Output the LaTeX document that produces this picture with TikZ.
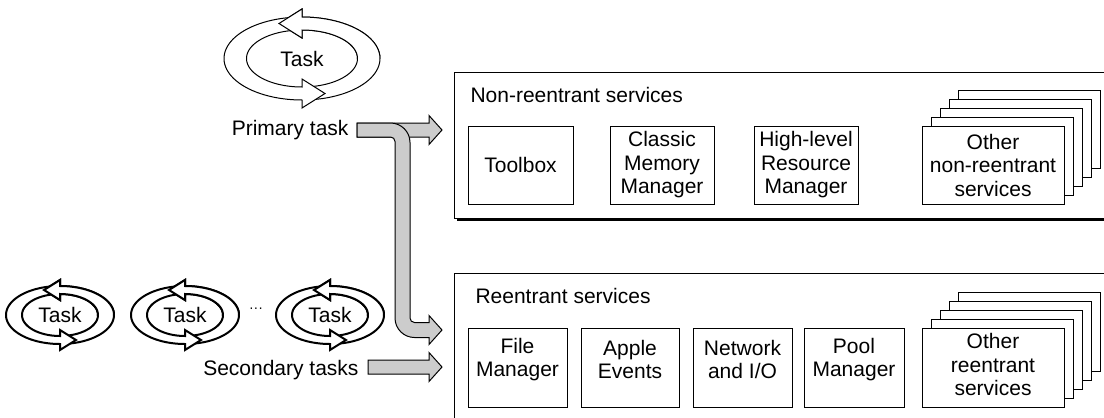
\documentclass[tikz,border=0pt]{standalone}
\usepackage{fontspec}
\setmainfont{Liberation Sans}
\definecolor{arrowgray}{RGB}{204,204,204}
% #1 cx, #2 cy, #3 a, #4 b, #5 wx, #6 wy, #7 head half height, #8 head length
\newcommand\taskring[8]{%
  \filldraw[fill=white]
    plot[domain=-85:90,samples=50] ({#1+(#3+#5)*cos(\x)},{#2-(#4+#6)*sin(\x)})
    -- ({#1},{#2-#4-#7}) -- ({#1-#8},{#2-#4}) -- ({#1},{#2-#4+#7})
    -- plot[domain=90:-85,samples=50] ({#1+(#3-#5)*cos(\x)},{#2-(#4-#6)*sin(\x)})
    -- cycle;
  \filldraw[fill=white]
    plot[domain=95:270,samples=50] ({#1+(#3+#5)*cos(\x)},{#2-(#4+#6)*sin(\x)})
    -- ({#1},{#2+#4+#7}) -- ({#1+#8},{#2+#4}) -- ({#1},{#2+#4-#7})
    -- plot[domain=270:95,samples=50] ({#1+(#3-#5)*cos(\x)},{#2-(#4-#6)*sin(\x)})
    -- cycle;
  \begin{scope}
    \clip ({#1-#3-#5-6},{#2-#4-#7-6}) rectangle ({#1+#3+#5+6},{#2});
    \filldraw[fill=white]
      plot[domain=-85:90,samples=50] ({#1+(#3+#5)*cos(\x)},{#2-(#4+#6)*sin(\x)})
      -- ({#1},{#2-#4-#7}) -- ({#1-#8},{#2-#4}) -- ({#1},{#2-#4+#7})
      -- plot[domain=90:-85,samples=50] ({#1+(#3-#5)*cos(\x)},{#2-(#4-#6)*sin(\x)})
      -- cycle;
  \end{scope}%
}
\begin{document}
\begin{tikzpicture}[x=1pt,y=-1pt,
  font=\fontsize{21}{23.5}\selectfont,
  line width=1pt,
  sbox/.style={draw, fill=white, inner sep=0pt, align=center, line width=1pt},
  garrow/.style={draw, fill=arrowgray, line width=1pt, line join=miter},
  lbl/.style={inner sep=0pt, align=center}]
\useasboundingbox (0,0) rectangle (1104,418);
\clip (0,0) rectangle (1104,418);

% ---- outer service panels ----
\fill[black] (457,75) rectangle (1115,221);
\node[draw, fill=white, line width=1.1pt, inner sep=0pt, anchor=north west,
      minimum width=660pt, minimum height=146pt] (nonre) at (454,72) {};
\fill[black] (457,276) rectangle (1115,440);
\node[draw, fill=white, line width=1.1pt, inner sep=0pt, anchor=north west,
      minimum width=660pt, minimum height=164pt] (re) at (454,273) {};

\node[lbl, anchor=base west] (nrtitle) at (470,102.5) {Non-reentrant services};
\node[lbl, anchor=base west] (retitle) at (475,303.5) {Reentrant services};

% ---- non-reentrant boxes ----
\node[sbox, minimum width=105pt, minimum height=78pt] (toolbox) at (520.5,165) {Toolbox};
\node[sbox, minimum width=104pt, minimum height=78pt] (classic) at (662,165) {Classic\\Memory\\Manager};
\node[sbox, minimum width=104pt, minimum height=78pt] (hlrm) at (806,165) {High-level\\Resource\\Manager};
\foreach \k in {4,3,2,1}
  \node[sbox, minimum width=142pt, minimum height=78pt] (onr\k) at ({993+9*\k},{165-9*\k}) {};
\node[sbox, minimum width=142pt, minimum height=78pt] (othernr) at (993,165) {Other\\non-reentrant\\services};

% ---- reentrant boxes ----
\node[sbox, minimum width=99pt, minimum height=79pt] (filemgr) at (517.5,367.5) {};
\node[lbl] (filemgrt) at (517.5,359.5) {File\\Manager};
\node[sbox, minimum width=98pt, minimum height=79pt] (apple) at (630,367.5) {};
\node[lbl] (applet) at (630,359.5) {Apple\\Events};
\node[sbox, minimum width=99pt, minimum height=79pt] (netio) at (742.5,367.5) {};
\node[lbl] (netiot) at (742.5,359.5) {Network\\and I/O};
\node[sbox, minimum width=100pt, minimum height=79pt] (pool) at (854,367.5) {};
\node[lbl] (poolt) at (854,359.5) {Pool\\Manager};
\foreach \k in {4,3,2,1}
  \node[sbox, minimum width=142pt, minimum height=79pt] (ore\k) at ({993+9*\k},{367.5-9*\k}) {};
\node[sbox, minimum width=142pt, minimum height=79pt] (otherre) at (993,367.5) {};
\node[lbl] (otherret) at (993,364.5) {Other\\reentrant\\services};

% ---- primary task ----
\taskring{302}{58.5}{66.75}{35}{11.25}{6.5}{14.5}{23}
\node[lbl] (ptask) at (302,58.5) {Task};
\node[lbl, anchor=base east] (plabel) at (349,135) {Primary task};

% ---- secondary tasks ----
\begin{scope}[line width=2pt]
\taskring{60}{315}{46}{25}{8}{4}{10}{16}
\taskring{185}{315}{46}{25}{8}{4}{10}{16}
\taskring{330}{315}{46}{25}{8}{4}{10}{16}
\end{scope}
\node[lbl] (s1) at (60,315) {Task};
\node[lbl] (s2) at (185,315) {Task};
\node[lbl] (s3) at (330,315) {Task};
\node[lbl] (sdots) at (256,310) {\fontsize{14}{14}\selectfont ···};
\node[lbl, anchor=base east] (slabel) at (359,375) {Secondary tasks};

% ---- gray arrows ----
\draw[garrow] (357,123) -- (429,123) -- (429,115.5) -- (442,130) -- (429,144.5)
  -- (429,137) -- (357,137) -- cycle;
\draw[garrow] (357,123) -- (390.5,123)
  .. controls (401.27,123) and (410,131.73) .. (410,142.5)
  -- (410,318) .. controls (410,320.49) and (412.01,322.5) .. (414.5,322.5)
  -- (429,322.5) -- (429,315.5) -- (442,330) -- (429,344.5) -- (429,337.5)
  -- (414.5,337.5) .. controls (403.73,337.5) and (395,328.77) .. (395,318)
  -- (395,141.5) .. controls (395,139.01) and (392.99,137) .. (390.5,137)
  -- (357,137) -- cycle;
\draw[garrow] (368,360) -- (429,360) -- (429,352.5) -- (442,367) -- (429,381.5)
  -- (429,374) -- (368,374) -- cycle;
\end{tikzpicture}
\end{document}
